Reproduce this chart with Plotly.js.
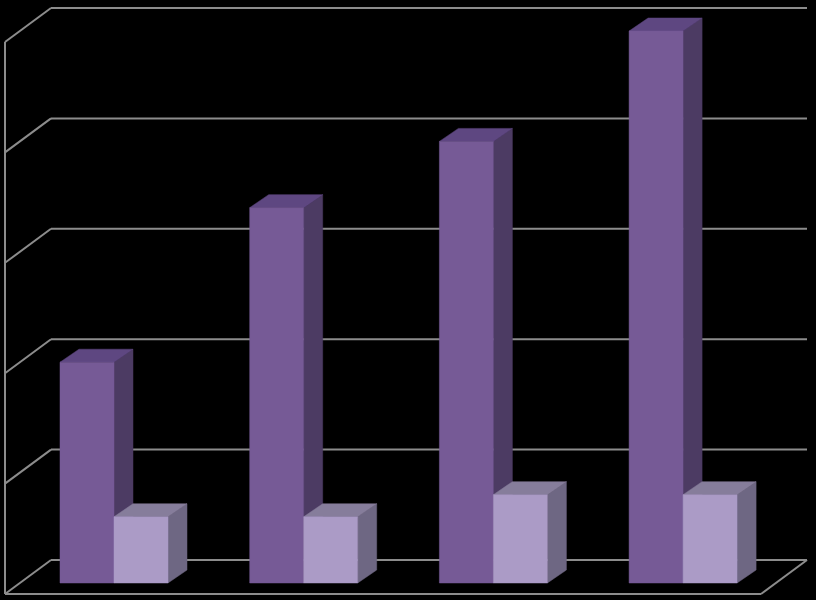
<!DOCTYPE html>
<html>
<head>
<meta charset="utf-8">
<script src="https://cdn.plot.ly/plotly-3.0.1.min.js"></script>
<style>html,body{margin:0;padding:0;background:#000;}#chart{width:816px;height:600px;}</style>
</head>
<body>
<div id="chart"></div>
<script>
// ---- data ----
const categories = ['Category 1', 'Category 2', 'Category 3', 'Category 4'];
const series1 = [2.0, 3.4, 4.0, 5.0];
const series2 = [0.6, 0.6, 0.8, 0.8];
const gridValues = [0, 1, 2, 3, 4, 5];

// ---- geometry / style (pixel-derived scale helpers) ----
const PXX = 1 / 189.7;   // x-units per pixel
const PXY = 1 / 110.4;   // y-units per pixel
const W = 54 * PXX;      // bar face width
const DX = 19 * PXX, DY = 13 * PXY;     // bar depth offset
const WALL_DY = 23 * PXY;               // back wall offset from bar front plane
const WALL_LEFT = (51 - 114) * PXX, WALL_RIGHT = (807 - 114) * PXX;
const FLOOR_DX = -46 * PXX, FLOOR_DY = -34 * PXY;

const traces = [];
const shapes = [];
const gridLine = {color: '#8c8c8c', width: 2};

function seg(x0, y0, x1, y1) {
  shapes.push({type: 'line', xref: 'x', yref: 'y', x0: x0, y0: y0, x1: x1, y1: y1,
    line: gridLine, layer: 'below'});
}

// back wall, left wall & floor gridlines
gridValues.forEach(v => {
  const yb = v + WALL_DY;
  seg(WALL_LEFT + FLOOR_DX, yb + FLOOR_DY, WALL_LEFT, yb);
  seg(WALL_LEFT, yb, WALL_RIGHT, yb);
});
const wallTop = gridValues[gridValues.length - 1] + WALL_DY;
const floorY = gridValues[0] + WALL_DY;
seg(WALL_LEFT + FLOOR_DX, wallTop + FLOOR_DY, WALL_LEFT + FLOOR_DX, floorY + FLOOR_DY);
seg(WALL_LEFT + FLOOR_DX, floorY + FLOOR_DY, WALL_RIGHT + FLOOR_DX, floorY + FLOOR_DY);
seg(WALL_RIGHT + FLOOR_DX, floorY + FLOOR_DY, WALL_RIGHT, floorY);

function face(xs, ys, c) {
  traces.push({x: xs, y: ys, type: 'scatter', mode: 'lines', fill: 'toself',
    fillcolor: c, opacity: 1, line: {width: 0.5, color: c}, hoverinfo: 'skip'});
}

function addBars(values, offset, colors) {
  values.forEach((v, i) => {
    const x0 = i + offset * W, x1 = x0 + W;
    face([x1, x1 + DX, x1 + DX, x1, x1], [0, DY, v + DY, v, 0], colors.side);
    face([x0, x1, x1 + DX, x0 + DX, x0], [v, v, v + DY, v + DY, v], colors.top);
    face([x0, x1, x1, x0, x0], [0, 0, v, v, 0], colors.front);
  });
}

addBars(series1, -1, {front: 'rgb(118,90,150)', side: 'rgb(76,59,99)', top: 'rgb(94,71,129)'});
addBars(series2, 0, {front: 'rgb(171,155,198)', side: 'rgb(110,103,131)', top: 'rgb(134,125,155)'});

const layout = {
  width: 816, height: 600,
  margin: {l: 0, r: 0, t: 0, b: 0},
  paper_bgcolor: '#000', plot_bgcolor: '#000',
  showlegend: false,
  shapes: shapes,
  xaxis: {range: [-114 * PXX, (816 - 114) * PXX], visible: false, fixedrange: true},
  yaxis: {range: [-17 * PXY, 583 * PXY], visible: false, fixedrange: true}
};

Plotly.newPlot('chart', traces, layout, {displayModeBar: false, staticPlot: true});
</script>
</body>
</html>
